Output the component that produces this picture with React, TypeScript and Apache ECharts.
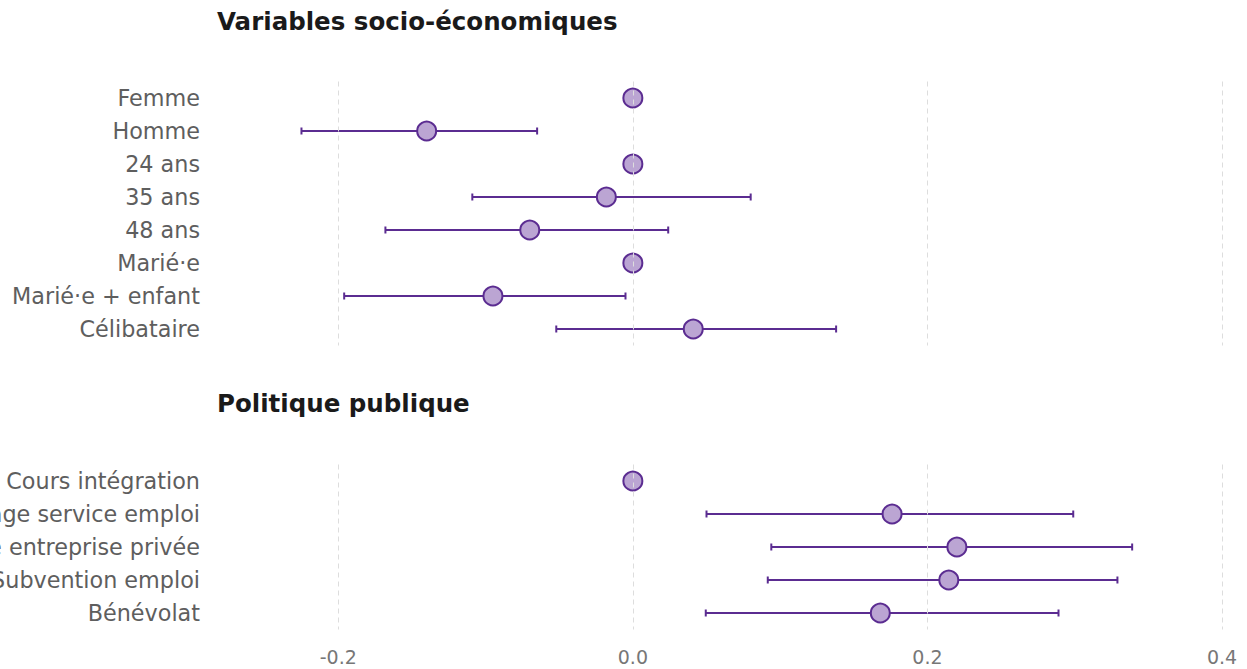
import React, { useEffect, useRef } from "react";
import * as echarts from "echarts";

const socioLabels = ["Femme", "Homme", "24 ans", "35 ans", "48 ans", "Marié·e", "Marié·e + enfant", "Célibataire"];
const socioEst = [0, -0.14, 0, -0.018, -0.07, 0, -0.095, 0.041];
const socioLow = [null, -0.225, null, -0.109, -0.168, null, -0.196, -0.052];
const socioHigh = [null, -0.065, null, 0.08, 0.024, null, -0.005, 0.138];

const policyLabels = ["Cours intégration", "Stage service emploi", "Stage entreprise privée", "Subvention emploi", "Bénévolat"];
const policyEst = [0, 0.176, 0.22, 0.2145, 0.168];
const policyLow = [null, 0.05, 0.094, 0.0916, 0.0495];
const policyHigh = [null, 0.299, 0.339, 0.329, 0.289];

const gridTicks = [-0.2, 0, 0.2, 0.4];

const FONT = "'DejaVu Sans', sans-serif";
const DARK = "#5b2c91";
const FILL = "#bba5d3";

function ciData(low: (number | null)[], high: (number | null)[]) {
  const out: number[][] = [];
  low.forEach((l, i) => {
    const h = high[i];
    if (l !== null && h !== null) out.push([l, h, i]);
  });
  return out;
}

function renderCI(params: any, api: any) {
  const a = api.coord([api.value(0), api.value(2)]);
  const b = api.coord([api.value(1), api.value(2)]);
  const c = 3.5;
  const style = { stroke: DARK, lineWidth: 2 };
  return {
    type: "group",
    children: [
      { type: "line", shape: { x1: a[0], y1: a[1], x2: b[0], y2: b[1] }, style },
      { type: "line", shape: { x1: a[0], y1: a[1] - c, x2: a[0], y2: a[1] + c }, style },
      { type: "line", shape: { x1: b[0], y1: b[1] - c, x2: b[0], y2: b[1] + c }, style },
    ],
  };
}

export default function App() {
  const ref = useRef<HTMLDivElement>(null);
  useEffect(() => {
    document.body.style.margin = "0";
    const chart = echarts.init(ref.current!, null, { renderer: "svg" });
    const xBase = {
      type: "value",
      min: -0.3,
      max: 0.4,
      interval: 0.1,
      axisLine: { show: false },
      axisTick: { show: false },
      splitLine: { show: false },
    };
    const yBase = {
      type: "category",
      inverse: true,
      axisLine: { show: false },
      axisTick: { show: false },
      splitLine: { show: false },
      axisLabel: { fontFamily: FONT, fontSize: 22.3, color: "#5e5e5e", margin: -9 },
    };
    const gridMark = {
      silent: true,
      symbol: "none",
      label: { show: false },
      lineStyle: { type: [5, 4], color: "#dddddd", width: 1 },
      data: gridTicks.map((v) => ({ xAxis: v })),
    };
    const titleStyle = { fontFamily: FONT, fontSize: 24.5, fontWeight: "bold", color: "#1a1a1a" };
    const option: any = {
      animation: false,
      title: [
        { text: "Variables socio-économiques", left: 212, top: 4, textStyle: titleStyle },
        { text: "Politique publique", left: 212, top: 386, textStyle: titleStyle },
      ],
      grid: [
        { left: 191, right: 25, top: 81.5, height: 264, outerBoundsMode: "none", containLabel: false },
        { left: 191, right: 25, top: 464.5, height: 165, outerBoundsMode: "none", containLabel: false },
      ],
      xAxis: [
        { ...xBase, gridIndex: 0, axisLabel: { show: false } },
        {
          ...xBase,
          gridIndex: 1,
          axisLabel: {
            show: true,
            fontFamily: FONT,
            fontSize: 19,
            color: "#777777",
            margin: 18,
            formatter: (v: number) => {
              const k = Math.round(v * 10);
              return k % 2 === 0 ? (k / 10).toFixed(1) : "";
            },
          },
        },
      ],
      yAxis: [
        { ...yBase, gridIndex: 0, data: socioLabels },
        { ...yBase, gridIndex: 1, data: policyLabels },
      ],
      series: [
        { type: "scatter", xAxisIndex: 0, yAxisIndex: 0, data: [], markLine: gridMark, z: 1 },
        { type: "scatter", xAxisIndex: 1, yAxisIndex: 1, data: [], markLine: gridMark, z: 1 },
        { type: "custom", xAxisIndex: 0, yAxisIndex: 0, renderItem: renderCI, encode: { x: [0, 1], y: 2 }, data: ciData(socioLow, socioHigh), z: 2 },
        { type: "custom", xAxisIndex: 1, yAxisIndex: 1, renderItem: renderCI, encode: { x: [0, 1], y: 2 }, data: ciData(policyLow, policyHigh), z: 2 },
        {
          type: "scatter", xAxisIndex: 0, yAxisIndex: 0, z: 3, symbolSize: 19,
          itemStyle: { color: FILL, borderColor: DARK, borderWidth: 2, opacity: 1 },
          data: socioEst.map((v, i) => [v, i]),
        },
        {
          type: "scatter", xAxisIndex: 1, yAxisIndex: 1, z: 3, symbolSize: 19,
          itemStyle: { color: FILL, borderColor: DARK, borderWidth: 2, opacity: 1 },
          data: policyEst.map((v, i) => [v, i]),
        },
      ],
    };
    chart.setOption(option);
    return () => chart.dispose();
  }, []);
  return <div ref={ref} style={{ width: 1247, height: 669 }} />;
}
